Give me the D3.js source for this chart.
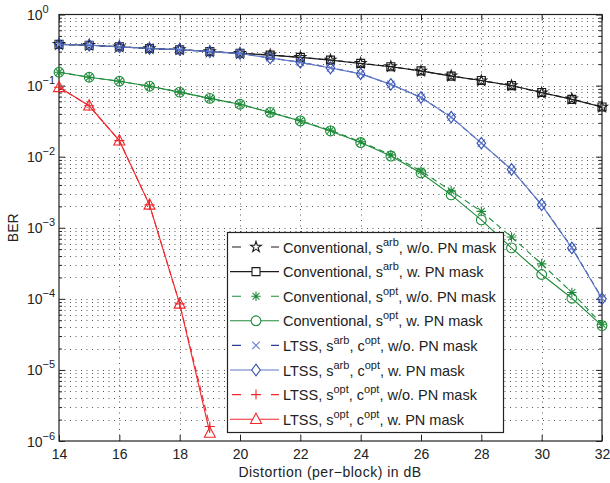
<!DOCTYPE html>
<html>
<head>
<meta charset="utf-8">
<script src="https://cdn.jsdelivr.net/npm/d3@7"></script>
<style>
  body { margin: 0; background: #fff; }
  text { font-family: 'Liberation Sans', Arial, sans-serif; fill: #222; }
</style>
</head>
<body>
<div id="chart"></div>
<script>
// distortion values (dB) on the x axis
let distortion = [14, 15, 16, 17, 18, 19, 20, 21, 22, 23, 24, 25, 26, 27, 28, 29, 30, 31, 32]
let distortionLtssOpt = [14, 15, 16, 17, 18, 19]

// BER per series
let convArbWo = [0.38, 0.37, 0.352, 0.332, 0.322, 0.300, 0.284, 0.270, 0.250, 0.229, 0.206, 0.185, 0.160, 0.137, 0.117, 0.100, 0.079, 0.065, 0.050]
let convArbW = [0.38, 0.37, 0.352, 0.333, 0.320, 0.301, 0.285, 0.268, 0.249, 0.228, 0.205, 0.184, 0.161, 0.136, 0.118, 0.100, 0.080, 0.064, 0.050]
let convOptWo = [0.154, 0.131, 0.115, 0.098, 0.081, 0.066, 0.0546, 0.042, 0.032, 0.0235, 0.0162, 0.0106, 0.0063, 0.0033, 0.0017, 0.00074, 0.00031, 0.000123, 0.000044]
let convOptW = [0.154, 0.131, 0.115, 0.098, 0.081, 0.066, 0.0546, 0.042, 0.0318, 0.023, 0.0158, 0.0102, 0.0059, 0.0029, 0.00129, 0.00052, 0.00022, 0.000102, 0.000042]
let ltssArbWo = [0.38, 0.37, 0.351, 0.332, 0.321, 0.300, 0.282, 0.245, 0.213, 0.178, 0.147, 0.104, 0.068, 0.036, 0.0155, 0.0066, 0.0021, 0.00053, 0.000102]
let ltssArbW = [0.38, 0.37, 0.351, 0.332, 0.321, 0.300, 0.282, 0.244, 0.212, 0.177, 0.146, 0.104, 0.068, 0.036, 0.0155, 0.0066, 0.0021, 0.00052, 0.0001]
let ltssOptWo = [0.0946, 0.052, 0.0168, 0.0021, 0.000085, 0.0000016]
let ltssOptW = [0.0946, 0.052, 0.0168, 0.0021, 0.000085, 0.0000013]

let xTicks = [14, 16, 18, 20, 22, 24, 26, 28, 30, 32]
let yExponents = [0, -1, -2, -3, -4, -5, -6]

let series = [
  { 'label': ['Conventional, s', 'arb', ', w/o. PN mask'], 'x': distortion, 'y': convArbWo, 'line': '#1a1a1a', 'mark': '#1a1a1a', 'dash': true, 'marker': 'star' },
  { 'label': ['Conventional, s', 'arb', ', w. PN mask'], 'x': distortion, 'y': convArbW, 'line': '#1a1a1a', 'mark': '#1a1a1a', 'dash': false, 'marker': 'square' },
  { 'label': ['Conventional, s', 'opt', ', w/o. PN mask'], 'x': distortion, 'y': convOptWo, 'line': '#1f8c3b', 'mark': '#1f8c3b', 'dash': true, 'marker': 'asterisk' },
  { 'label': ['Conventional, s', 'opt', ', w. PN mask'], 'x': distortion, 'y': convOptW, 'line': '#1f8c3b', 'mark': '#1f8c3b', 'dash': false, 'marker': 'circle' },
  { 'label': ['LTSS, s', 'arb', ', c', 'opt', ', w/o. PN mask'], 'x': distortion, 'y': ltssArbWo, 'line': '#2a3f98', 'mark': '#6f84d2', 'dash': true, 'marker': 'x' },
  { 'label': ['LTSS, s', 'arb', ', c', 'opt', ', w. PN mask'], 'x': distortion, 'y': ltssArbW, 'line': '#5c78c6', 'mark': '#3550b0', 'dash': false, 'marker': 'diamond' },
  { 'label': ['LTSS, s', 'opt', ', c', 'opt', ', w/o. PN mask'], 'x': distortionLtssOpt, 'y': ltssOptWo, 'line': '#f0282d', 'mark': '#f0282d', 'dash': true, 'marker': 'plus' },
  { 'label': ['LTSS, s', 'opt', ', c', 'opt', ', w. PN mask'], 'x': distortionLtssOpt, 'y': ltssOptW, 'line': '#f0282d', 'mark': '#f0282d', 'dash': false, 'marker': 'triangle' }
]

let width = 610
let height = 483
let margin = { 'left': 59, 'right': 8, 'top': 14.5, 'bottom': 42 }
let fontSize = 14

let svg = d3.select('#chart')
  .append('svg')
  .attr('width', width)
  .attr('height', height)

let x = d3.scaleLinear().domain([14, 32]).range([margin.left, width - margin.right])
let y = d3.scaleLog().domain([1e-6, 1]).range([height - margin.bottom, margin.top])

let x0 = x.range()[0], x1 = x.range()[1]
let y0 = y.range()[0], y1 = y.range()[1]

// grid: horizontal at every decade and minor step, vertical at the x ticks
let gridY = []
for (let e = -6; e < 0; e++) {
  for (let m = 1; m < 10; m++) gridY.push(m * Math.pow(10, e))
}

let grid = svg.append('g')
  .attr('stroke', '#444')
  .attr('stroke-width', 0.9)
  .attr('stroke-dasharray', '1,4.5')

grid.selectAll('.gy')
  .data(gridY.filter(function(v) { return v > 1e-6 }))
  .enter().append('line')
  .attr('x1', x0).attr('x2', x1)
  .attr('y1', function(d) { return Math.round(y(d)) + 0.5 })
  .attr('y2', function(d) { return Math.round(y(d)) + 0.5 })

grid.selectAll('.gx')
  .data(xTicks.slice(1, -1))
  .enter().append('line')
  .attr('y1', y0).attr('y2', y1)
  .attr('x1', function(d) { return Math.round(x(d)) + 0.5 })
  .attr('x2', function(d) { return Math.round(x(d)) + 0.5 })

// axes, ticks on all four sides pointing in
let axisBottom = d3.axisBottom(x).tickValues(xTicks).tickSize(-6).tickPadding(8).tickFormat(d3.format('d'))
let axisTop = d3.axisTop(x).tickValues(xTicks).tickSize(-6).tickFormat('')
let decades = yExponents.map(function(e) { return Math.pow(10, e) })
let axisLeft = d3.axisLeft(y).tickValues(decades).tickSize(-6).tickFormat('')
let axisRight = d3.axisRight(y).tickValues(decades).tickSize(-6).tickFormat('')
let minor = gridY.filter(function(v) { return v > 1e-6 && Math.abs(Math.log10(v) % 1) > 1e-9 })

function styleAxis(g) {
  g.select('.domain').remove()
  g.selectAll('line').attr('stroke', '#222')
  g.selectAll('text').attr('font-size', fontSize).attr('fill', '#222')
}

svg.append('g').attr('transform', `translate(0,${y0})`).call(axisBottom).call(styleAxis)
svg.append('g').attr('transform', `translate(0,${y1})`).call(axisTop).call(styleAxis)
svg.append('g').attr('transform', `translate(${x0},0)`).call(axisLeft).call(styleAxis)
svg.append('g').attr('transform', `translate(${x1},0)`).call(axisRight).call(styleAxis)
svg.append('g').attr('transform', `translate(${x0},0)`).call(d3.axisLeft(y).tickValues(minor).tickSize(-3).tickFormat('')).call(styleAxis)
svg.append('g').attr('transform', `translate(${x1},0)`).call(d3.axisRight(y).tickValues(minor).tickSize(-3).tickFormat('')).call(styleAxis)

// y tick labels as 10^e
let yLabels = svg.append('g').selectAll('text')
  .data(yExponents)
  .enter().append('text')
  .attr('x', 27)
  .attr('y', function(d) { return y(Math.pow(10, d)) + 5.5 })
  .attr('font-size', fontSize)
yLabels.append('tspan').text('10')
yLabels.append('tspan')
  .attr('dy', -7)
  .attr('font-size', 11)
  .text(function(d) { return d === 0 ? '0' : '\u2212' + (-d) })

svg.append('rect')
  .attr('x', x0).attr('y', y1)
  .attr('width', x1 - x0).attr('height', y0 - y1)
  .attr('fill', 'none').attr('stroke', '#222').attr('stroke-width', 1.2)

svg.append('text')
  .attr('x', 330).attr('y', 477)
  .attr('text-anchor', 'middle').attr('font-size', fontSize)
  .attr('letter-spacing', 0.5)
  .text('Distortion (per\u2212block) in dB')

svg.append('text')
  .attr('transform', `translate(18,${(y0 + y1) / 2}) rotate(-90)`)
  .attr('text-anchor', 'middle').attr('font-size', fontSize)
  .text('BER')

// marker shapes, centred on 0,0
function markerPath(type) {
  switch (type) {
    case 'star': return d3.symbol(d3.symbolStar, 36)()
    case 'square': return 'M-4,-4H4V4H-4Z'
    case 'circle': return d3.symbol(d3.symbolCircle, 75)()
    case 'diamond': return 'M0,-5.8L4.3,0L0,5.8L-4.3,0Z'
    case 'triangle': return 'M0,-6L5.5,4.3L-5.5,4.3Z'
    case 'plus': return 'M-5,0H5M0,-5V5'
    case 'x': return 'M-3.8,-3.8L3.8,3.8M-3.8,3.8L3.8,-3.8'
    case 'asterisk': return 'M-4.8,0H4.8M0,-4.8V4.8M-3.4,-3.4L3.4,3.4M-3.4,3.4L3.4,-3.4'
  }
}

let line = d3.line()
  .x(function(d) { return x(d[0]) })
  .y(function(d) { return y(d[1]) })

let plot = svg.append('g')

series.forEach(function(s) {
  let points = s.x.map(function(v, i) { return [v, s.y[i]] })
  let g = plot.append('g')

  g.append('path')
    .attr('d', line(points))
    .attr('fill', 'none')
    .attr('stroke', s.line)
    .attr('stroke-width', 1.1)
    .attr('stroke-dasharray', s.dash ? '6,4' : null)

  g.selectAll('.marker')
    .data(points)
    .enter().append('path')
    .attr('transform', function(d) { return `translate(${x(d[0])},${y(d[1])})` })
    .attr('d', markerPath(s.marker))
    .attr('fill', 'none')
    .attr('stroke', s.mark)
    .attr('stroke-width', 1.1)
})

// legend box
let legend = svg.append('g')
legend.append('rect')
  .attr('x', 227.5).attr('y', 232.5)
  .attr('width', 276).attr('height', 200)
  .attr('fill', '#fff').attr('stroke', '#222').attr('stroke-width', 1.2)

series.forEach(function(s, i) {
  let ly = 247 + i * 24.6
  if (s.dash) {
    legend.append('path')
      .attr('d', `M232,${ly}H241M271,${ly}H279`)
      .attr('stroke', s.line).attr('stroke-width', 1.1)
  } else {
    legend.append('path')
      .attr('d', `M230,${ly}H279`)
      .attr('stroke', s.line).attr('stroke-width', 1.1)
  }
  legend.append('path')
    .attr('transform', `translate(256,${ly})`)
    .attr('d', markerPath(s.marker))
    .attr('fill', s.dash ? 'none' : '#fff')
    .attr('stroke', s.mark).attr('stroke-width', 1.1)

  let t = legend.append('text')
    .attr('x', 283).attr('y', ly + 5.5)
    .attr('font-size', 14.5)
  // odd pieces of the label are superscripts
  s.label.forEach(function(part, k) {
    let sup = k % 2 === 1
    t.append('tspan')
      .attr('dy', sup ? -7 : (k > 0 ? 7 : 0))
      .attr('font-size', sup ? 11 : 14.5)
      .text(part)
  })
})
</script>
</body>
</html>
